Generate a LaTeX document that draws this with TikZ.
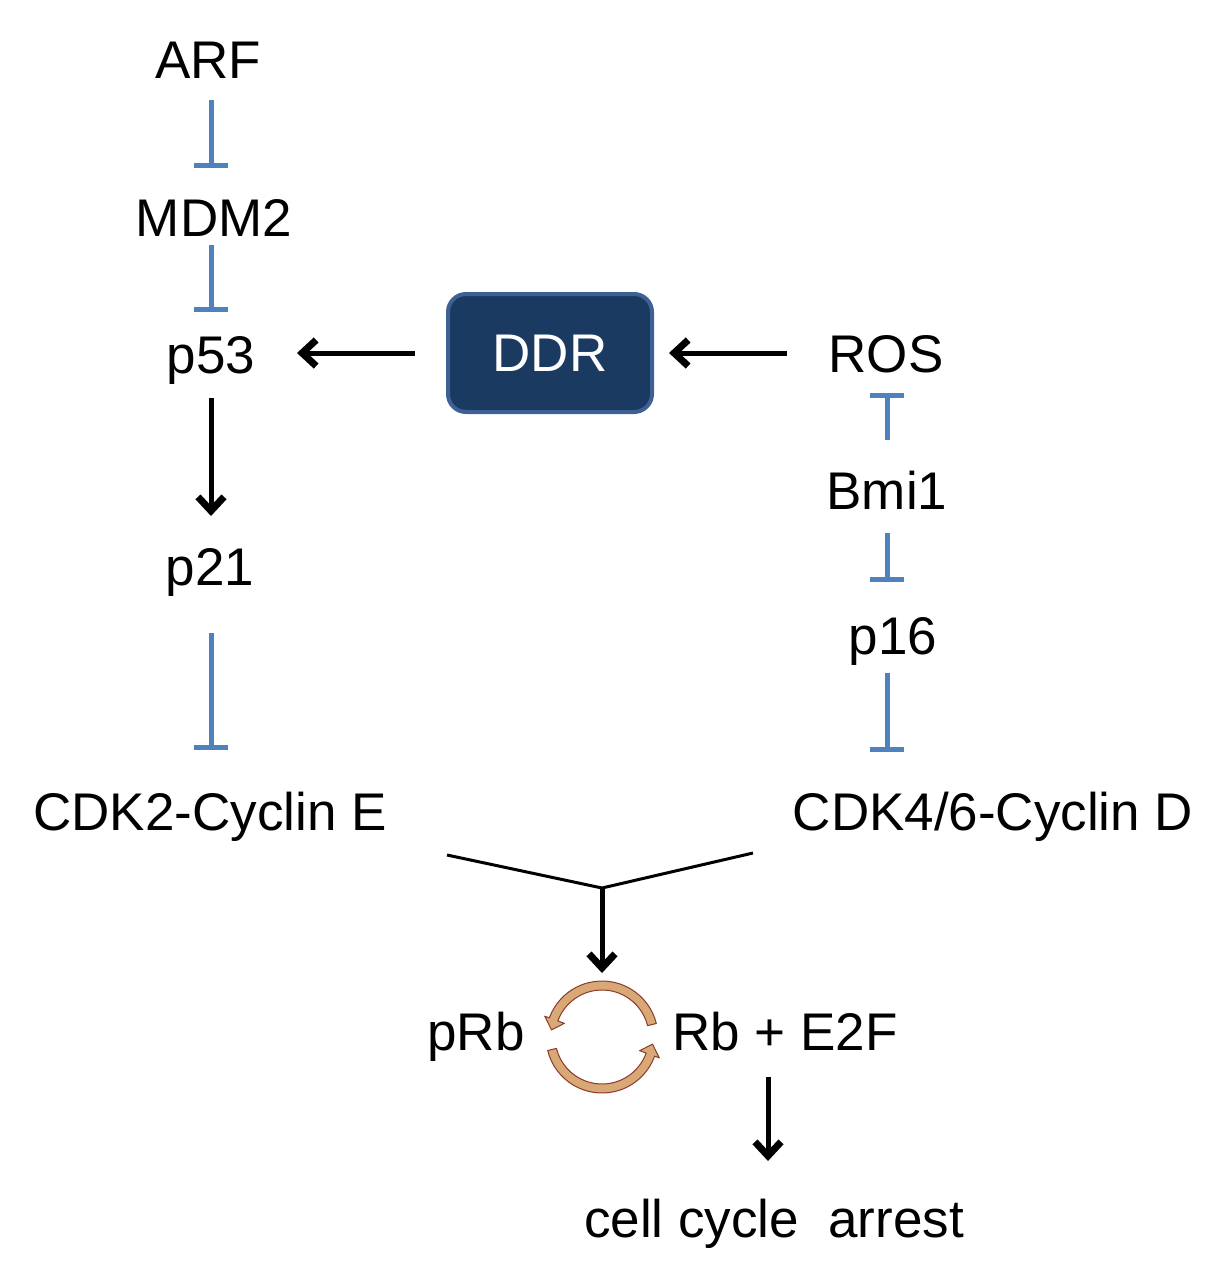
\documentclass[tikz,border=0pt]{standalone}
\usepackage{fontspec}
\setmainfont{Liberation Sans}
\usetikzlibrary{arrows.meta,calc}
\definecolor{inhb}{HTML}{4F81BD}
\definecolor{ddrfill}{HTML}{1B3A62}
\definecolor{ddrline}{HTML}{3D6194}
\definecolor{cycfill}{HTML}{D8A877}
\definecolor{cycline}{HTML}{8E3A2A}
\tikzset{
  lbl/.style={inner sep=0pt, anchor=base, font=\fontsize{53}{60}\selectfont},
  inh/.style={draw=inhb, line width=5pt, -{Bar[width=34pt,line width=5pt]}},
  act/.style={draw=black, line width=5pt, -{Straight Barb[length=14pt,width=26pt,line width=7pt]}},
  vline/.style={draw=black, line width=3pt},
  cyc/.style={fill=cycfill, draw=cycline, line width=1pt, line join=round},
}
\begin{document}
\begin{tikzpicture}[x=1pt,y=-1pt]
\useasboundingbox (0,0) rectangle (1229,1288);
% nodes
\node[lbl] (arf) at (208,78) {ARF};
\node[lbl] (mdm2) at (214,236) {MDM2};
\node[lbl] (p53) at (211,373) {p53};
\node[lbl] (p21) at (210,585) {p21};
\node[lbl] (cdk2) at (210,830) {CDK2-Cyclin E};
\node[lbl] (ros) at (886,372) {ROS};
\node[lbl] (bmi1) at (887,509) {Bmi1};
\node[lbl] (p16) at (893,654) {p16};
\node[lbl] (cdk4) at (993,830) {CDK4/6-Cyclin D};
\node[lbl] (prb) at (476,1050) {pRb};
\node[lbl] (rbe) at (785,1050) {Rb + E2F};
\node[lbl] (arrest) at (774,1237) {cell cycle\ \ arrest};
\node[draw=ddrline, line width=4pt, fill=ddrfill, rounded corners=18pt,
      minimum width=204pt, minimum height=118pt, inner sep=0pt,
      text=white, font=\fontsize{53}{60}\selectfont] (ddr) at (550,353) {DDR};
% coordinates for connector ends
\coordinate (a1) at (211,100); \coordinate (a2) at (211,168);
\coordinate (m1) at (211,245); \coordinate (m2) at (211,312);
\coordinate (q1) at (211,633); \coordinate (q2) at (211,750);
\coordinate (b1) at (887,440); \coordinate (b2) at (887,393);
\coordinate (b3) at (887,533); \coordinate (b4) at (887,582);
\coordinate (s1) at (887,673); \coordinate (s2) at (887,752);
\coordinate (d1) at (415,353); \coordinate (d2) at (297,353);
\coordinate (r1) at (787,353); \coordinate (r2) at (669,353);
\coordinate (p1) at (211,398); \coordinate (p2) at (211,516);
\coordinate (v1) at (447,855); \coordinate (vm) at (602,888); \coordinate (v2) at (753,853);
\coordinate (vd) at (602,973);
\coordinate (e1) at (768,1077); \coordinate (e2) at (768,1161);
% inhibitions
\draw[inh] (a1) -- (a2);
\draw[inh] (m1) -- (m2);
\draw[inh] (q1) -- (q2);
\draw[inh] (b1) -- (b2);
\draw[inh] (b3) -- (b4);
\draw[inh] (s1) -- (s2);
% activations
\draw[act] (d1) -- (d2);
\draw[act] (r1) -- (r2);
\draw[act] (p1) -- (p2);
\draw[vline] (v1) -- (vm) -- (v2);
\draw[act] (vm) -- (vd);
\draw[act] (e1) -- (e2);
% cycle arrows
\coordinate (cc) at (602,1037);
\path[cyc] ($(cc)+(14:56pt)$) arc[start angle=14, end angle=160, radius=56pt]
  -- ($(cc)+(160:61pt)$) -- ($(cc)+(172:51pt)$) -- ($(cc)+(160:40pt)$) -- ($(cc)+(160:47pt)$)
  arc[start angle=160, end angle=14, radius=47pt] -- cycle;
\path[cyc] ($(cc)+(194:56pt)$) arc[start angle=194, end angle=340, radius=56pt]
  -- ($(cc)+(340:61pt)$) -- ($(cc)+(352:51pt)$) -- ($(cc)+(340:40pt)$) -- ($(cc)+(340:47pt)$)
  arc[start angle=340, end angle=194, radius=47pt] -- cycle;
\end{tikzpicture}
\end{document}
